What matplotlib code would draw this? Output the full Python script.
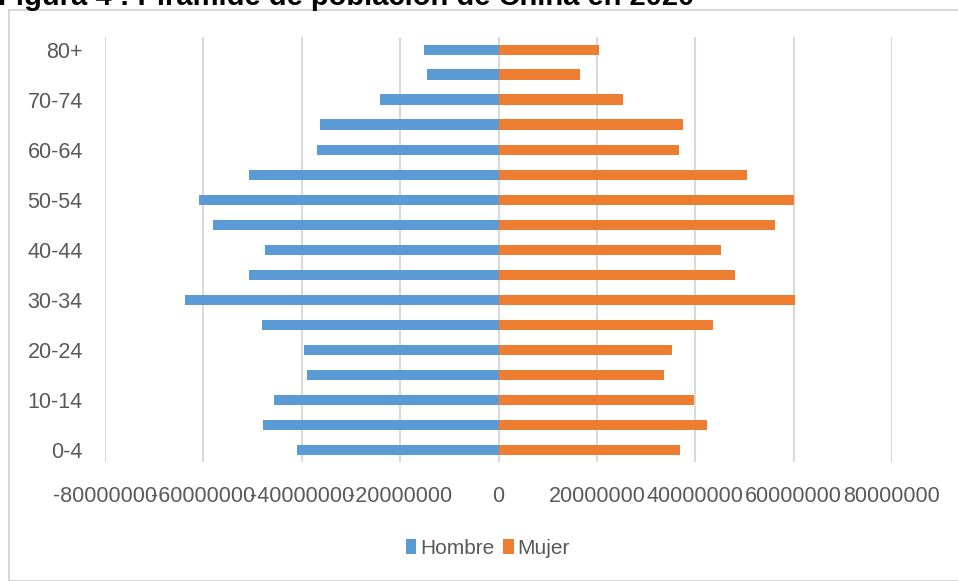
import matplotlib.pyplot as plt
from matplotlib.patches import Rectangle

grupos = ["0-4", "5-9", "10-14", "15-19", "20-24", "25-29", "30-34", "35-39",
          "40-44", "45-49", "50-54", "55-59", "60-64", "65-69", "70-74", "75-79", "80+"]
hombre = [41.0, 47.9, 45.7, 39.0, 39.6, 48.1, 63.8, 50.8,
          47.5, 58.1, 60.9, 50.8, 36.8, 36.3, 24.0, 14.6, 15.2]
mujer = [37.0, 42.4, 39.8, 33.7, 35.3, 43.7, 60.3, 48.1,
         45.3, 56.2, 60.1, 50.6, 36.6, 37.6, 25.4, 16.5, 20.5]
hombre = [-v * 1e6 for v in hombre]
mujer = [v * 1e6 for v in mujer]
xticks = [-80000000, -60000000, -40000000, -20000000, 0, 20000000, 40000000, 60000000, 80000000]

plt.rcParams['font.family'] = ['Liberation Sans', 'DejaVu Sans']
gris = '#595959'

fig = plt.figure(figsize=(9.58, 5.81), dpi=100)
ax = fig.add_axes([105 / 958, 1 - 462 / 581, (892 - 105) / 958, (462 - 37) / 581])

y = list(range(len(grupos)))
ax.barh(y, hombre, height=0.4, color='#5B9BD5', label='Hombre', zorder=3)
ax.barh(y, mujer, height=0.4, color='#ED7D31', label='Mujer', zorder=3)

ax.set_xlim(-80000000, 80000000)
ax.set_ylim(-0.5, len(grupos) - 0.5)
ax.set_xticks(xticks)
ax.set_xticklabels([str(t) for t in xticks], fontsize=15.5, color=gris)
ax.set_yticks(y[::2])
ax.set_yticklabels(grupos[::2], fontsize=15.5, color=gris)
ax.tick_params(axis='both', length=0)
ax.tick_params(axis='x', pad=17)
ax.tick_params(axis='y', pad=16)
ax.grid(axis='x', color='#d9d9d9', linewidth=1.5, zorder=0)
for s in ax.spines.values():
    s.set_visible(False)

ax.legend(loc='center', bbox_to_anchor=(488 / 958, (581 - 548) / 581), bbox_transform=fig.transFigure,
          ncol=2, frameon=False, fontsize=15, labelcolor=gris, handlelength=0.5, handleheight=0.7,
          handletextpad=0.2, columnspacing=0.4)

fig.patches.append(Rectangle((9 / 958, 0), 1, 1 - 10 / 581, transform=fig.transFigure,
                             fill=False, edgecolor='#d0d0d0', linewidth=1.2))
fig.text(-0.002, 1 - 5 / 581, "Figura 4 : Pirámide de población de China en 2020",
         fontsize=21, fontweight='bold', va='baseline', ha='left', color='black')

plt.savefig("out.png", dpi=100)
